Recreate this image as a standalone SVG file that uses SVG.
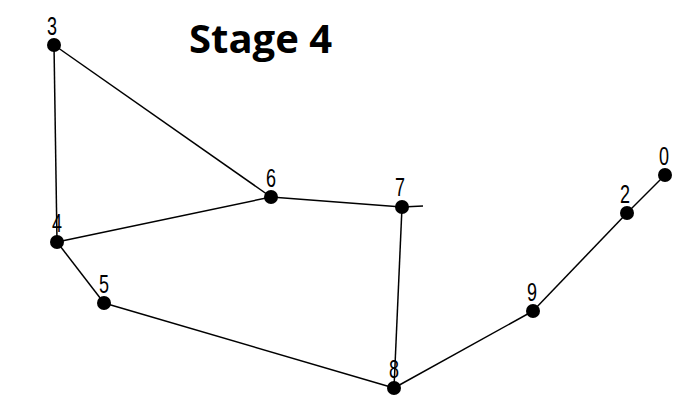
<svg xmlns="http://www.w3.org/2000/svg" width="679" height="404" viewBox="0 0 679 404">
<style>
.e{stroke:#000;stroke-width:1.5;fill:none}
.n{fill:#000}
.l{font-family:"Liberation Sans",Arial,sans-serif;font-size:26px;fill:#000;text-anchor:middle}
.t{font-family:"Open Sans","Liberation Sans",sans-serif;font-weight:bold;font-size:40px;fill:#000}
</style>
<rect width="679" height="404" fill="#fff"/>
<text class="t" x="189" y="53">Stage 4</text>
<g id="connectors">
<line class="e" x1="54" y1="45" x2="57" y2="242"/>
<line class="e" x1="54" y1="45" x2="271" y2="197"/>
<line class="e" x1="57" y1="242" x2="271" y2="197"/>
<line class="e" x1="57" y1="242" x2="104" y2="303"/>
<line class="e" x1="104" y1="303" x2="394" y2="388"/>
<line class="e" x1="271" y1="197" x2="402" y2="207"/>
<line class="e" x1="402" y1="207" x2="423" y2="206"/>
<line class="e" x1="402" y1="207" x2="394" y2="388"/>
<line class="e" x1="394" y1="388" x2="533" y2="311"/>
<line class="e" x1="533" y1="311" x2="627" y2="213"/>
<line class="e" x1="627" y1="213" x2="665" y2="175"/>
</g>
<g id="n3"><circle class="n" cx="54" cy="45" r="7"/><text class="l" x="52" y="35" textLength="10" lengthAdjust="spacingAndGlyphs">3</text></g>
<g id="n4"><circle class="n" cx="57" cy="242" r="7"/><text class="l" x="57" y="232" textLength="10" lengthAdjust="spacingAndGlyphs">4</text></g>
<g id="n5"><circle class="n" cx="104" cy="303" r="7"/><text class="l" x="104" y="293" textLength="10" lengthAdjust="spacingAndGlyphs">5</text></g>
<g id="n6"><circle class="n" cx="271" cy="197" r="7"/><text class="l" x="271" y="187" textLength="10" lengthAdjust="spacingAndGlyphs">6</text></g>
<g id="n7"><circle class="n" cx="402" cy="207" r="7"/><text class="l" x="400" y="196" textLength="10" lengthAdjust="spacingAndGlyphs">7</text></g>
<g id="n8"><circle class="n" cx="394" cy="388" r="7"/><text class="l" x="394" y="378" textLength="10" lengthAdjust="spacingAndGlyphs">8</text></g>
<g id="n9"><circle class="n" cx="533" cy="311" r="7"/><text class="l" x="532" y="301" textLength="10" lengthAdjust="spacingAndGlyphs">9</text></g>
<g id="n2"><circle class="n" cx="627" cy="213" r="7"/><text class="l" x="625" y="203" textLength="10" lengthAdjust="spacingAndGlyphs">2</text></g>
<g id="n0"><circle class="n" cx="665" cy="175" r="7"/><text class="l" x="664" y="165" textLength="10" lengthAdjust="spacingAndGlyphs">0</text></g>
</svg>
